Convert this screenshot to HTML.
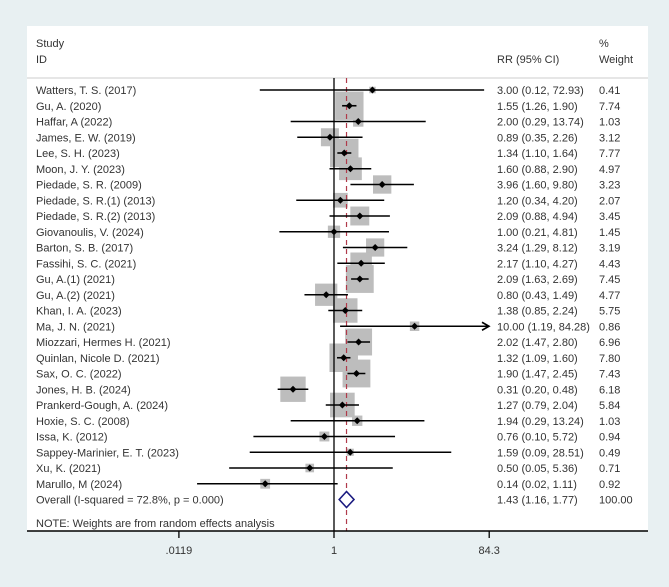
<!DOCTYPE html>
<html><head><meta charset="utf-8"><style>
html,body{margin:0;padding:0;background:#e8f0f2;}
svg{display:block;font-family:"Liberation Sans",Arial,sans-serif;}
text{fill:#333;font-size:11px;}
</style></head><body>
<svg id="chart" width="669" height="587">
<rect x="27" y="26" width="621" height="505" fill="#fff"/>
<text x="36" y="47">Study</text>
<text x="36" y="63">ID</text>
<text x="497" y="63">RR (95% CI)</text>
<text x="599" y="47">%</text>
<text x="599" y="63">Weight</text>
<line x1="27" y1="78" x2="648" y2="78" stroke="#ccc" stroke-width="1"/>
<g id="marks"></g>
<text x="36" y="527">NOTE: Weights are from random effects analysis</text>
<line x1="27" y1="531" x2="648" y2="531" stroke="#000" stroke-width="1.5"/>
<g id="ticks"></g>
</svg>
<script>
const studies=["Watters, T. S. (2017)","Gu, A. (2020)","Haffar, A (2022)","James, E. W. (2019)","Lee, S. H. (2023)","Moon, J. Y. (2023)","Piedade, S. R. (2009)","Piedade, S. R.(1) (2013)","Piedade, S. R.(2) (2013)","Giovanoulis, V. (2024)","Barton, S. B. (2017)","Fassihi, S. C. (2021)","Gu, A.(1) (2021)","Gu, A.(2) (2021)","Khan, I. A. (2023)","Ma, J. N. (2021)","Miozzari, Hermes H. (2021)","Quinlan, Nicole D. (2021)","Sax, O. C. (2022)","Jones, H. B. (2024)","Prankerd-Gough, A. (2024)","Hoxie, S. C. (2008)","Issa, K. (2012)","Sappey-Marinier, E. T. (2023)","Xu, K. (2021)","Marullo, M (2024)"];
const rr=[3.00,1.55,2.00,0.89,1.34,1.60,3.96,1.20,2.09,1.00,3.24,2.17,2.09,0.80,1.38,10.00,2.02,1.32,1.90,0.31,1.27,1.94,0.76,1.59,0.50,0.14];
const lo=[0.12,1.26,0.29,0.35,1.10,0.88,1.60,0.34,0.88,0.21,1.29,1.10,1.63,0.43,0.85,1.19,1.47,1.09,1.47,0.20,0.79,0.29,0.10,0.09,0.05,0.02];
const hi=[72.93,1.90,13.74,2.26,1.64,2.90,9.80,4.20,4.94,4.81,8.12,4.27,2.69,1.49,2.24,84.28,2.80,1.60,2.45,0.48,2.04,13.24,5.72,28.51,5.36,1.11];
const weights=[0.41,7.74,1.03,3.12,7.77,4.97,3.23,2.07,3.45,1.45,3.19,4.43,7.45,4.77,5.75,0.86,6.96,7.80,7.43,6.18,5.84,1.03,0.94,0.49,0.71,0.92];
const overall=[1.43,1.16,1.77];
const overallLabel="Overall  (I-squared = 72.8%, p = 0.000)";
const tickVals=[0.0119,1,84.3];
const tickLabels=[".0119","1","84.3"];
const NS="http://www.w3.org/2000/svg";
const X=v=>334+35*Math.log(v);
const Y=i=>90+i*15.75;
const fmt=v=>v.toFixed(2);
function mk(tag,attrs,parent){const e=document.createElementNS(NS,tag);for(const k in attrs)e.setAttribute(k,attrs[k]);parent.appendChild(e);return e;}
const g=document.getElementById('marks');
const sq=mk('g',{},g);
const ln=mk('g',{},g);
studies.forEach((s,i)=>{
  const y=Y(i),cx=X(rr[i]),side=10.2*Math.sqrt(weights[i]);
  const r=mk('rect',{x:cx-side/2,y:y-side/2,width:side,height:side,fill:'#bdbdbd'},sq);
  
  
});
// reference lines
const v1=mk('line',{x1:X(1),y1:78,x2:X(1),y2:531,stroke:'#000','stroke-width':1.3},ln);


const v2=mk('line',{x1:X(overall[0]),y1:78,x2:X(overall[0]),y2:531,stroke:'#b03a4a','stroke-width':1.2,'stroke-dasharray':'5,4'},ln);


studies.forEach((s,i)=>{
  const y=Y(i),cx=X(rr[i]);
  const x2=Math.min(X(hi[i]),489);
  const l=mk('line',{x1:X(lo[i]),y1:y,x2:x2,y2:y,stroke:'#000','stroke-width':1.6},ln);
  
  
  if(hi[i]>=80){
    const a=mk('path',{d:`M${x2-7},${y-4} L${x2},${y} L${x2-7},${y+4}`,fill:'none',stroke:'#000','stroke-width':1.6},ln);
    
    
  }
  const d=mk('path',{d:`M${cx-3.5},${y} L${cx},${y-3.5} L${cx+3.5},${y} L${cx},${y+3.5}Z`,fill:'#000'},ln);
  
  
  const t1=mk('text',{x:36,y:y+4},ln);t1.textContent=s;
  
  
  const t2=mk('text',{x:497,y:y+4},ln);t2.textContent=`${fmt(rr[i])} (${fmt(lo[i])}, ${fmt(hi[i])})`;
  
  
  const t3=mk('text',{x:599,y:y+4},ln);t3.textContent=fmt(weights[i]);
  
  
});
const oy=Y(studies.length);
const od=mk('path',{d:`M${X(overall[1])},${oy} L${X(overall[0])},${oy-8} L${X(overall[2])},${oy} L${X(overall[0])},${oy+8}Z`,fill:'#fff',stroke:'#1a1a80','stroke-width':1.6},ln);


const ot=mk('text',{x:36,y:oy+4},ln);ot.textContent=overallLabel;


const ot2=mk('text',{x:497,y:oy+4},ln);ot2.textContent=`${fmt(overall[0])} (${fmt(overall[1])}, ${fmt(overall[2])})`;


const ot3=mk('text',{x:599,y:oy+4},ln);ot3.textContent="100.00";


const tg=document.getElementById('ticks');
tickVals.forEach((v,i)=>{
  const t=mk('line',{x1:X(v),y1:531,x2:X(v),y2:538,stroke:'#000','stroke-width':1.3},tg);
  
  
  const tl=mk('text',{x:X(v),y:554,'text-anchor':'middle'},tg);tl.textContent=tickLabels[i];
  
  
});
</script>
</body></html>
